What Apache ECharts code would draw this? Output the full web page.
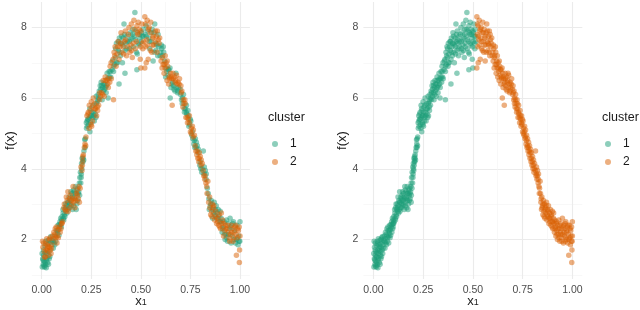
<!DOCTYPE html>
<html><head><meta charset="utf-8">
<script src="https://cdn.jsdelivr.net/npm/echarts@6/dist/echarts.min.js"></script>
<style>html,body{margin:0;padding:0;background:#fff}#c{width:640px;height:310px}</style>
</head><body><div id="c"></div>
<script>
const xMajorTicks = [0, 0.25, 0.5, 0.75, 1];
const xMinorTicks = [0.125, 0.375, 0.625, 0.875];
const yMajorTicks = [2, 4, 6, 8];
const yMinorTicks = [1, 3, 5, 7];
const clusterNames = ['1', '2'];
const clusterColors = ['#1B9E77', '#D95F02'];

// [x, f(x), cluster in left panel] ; right panel cluster 1
const rightCluster1Points = [
[0.003,1.22,1],[0.005,1.45,1],[0.006,1.78,2],[0.008,1.3,1],[0.01,1.55,1],[0.01,1.9,2],[0.012,1.38,1],[0.013,1.65,2],[0.015,1.22,1],[0.016,1.82,1],[0.018,1.5,2],[0.02,1.95,1],[0.02,1.28,1],[0.022,1.7,2],[0.024,1.42,1],[0.025,2.02,2],[0.026,1.6,1],[0.028,1.85,2],[0.03,1.35,1],[0.03,1.75,2],[0.033,1.98,1],[0.035,1.55,2],[0.036,1.88,1],[0.038,1.45,1],[0.04,1.78,2],[0.042,2.05,2],[0.045,1.92,1],[0.047,1.6,2],[0.05,1.85,2],[0.052,1.98,1],
[0.002,1.6,1],[0.004,1.95,2],[0.007,1.42,1],[0.009,1.7,1],[0.011,1.25,1],[0.014,1.5,2],[0.017,1.35,1],[0.019,1.62,1],[0.021,1.88,2],[0.023,1.2,1],[0.027,1.48,1],[0.029,1.68,2],[0.032,1.8,2],[0.034,1.3,1],[0.037,1.65,1],[0.039,2.0,2],[0.041,1.52,1],[0.044,1.7,2],[0.046,2.08,1],[0.049,1.75,2],
[0.055,2.1,2],[0.058,1.75,1],[0.06,2.02,2],[0.062,1.9,1],[0.065,2.15,2],[0.068,2.3,2],[0.07,1.95,1],[0.072,2.05,2],[0.075,2.25,1],[0.078,2.1,2],[0.08,2.18,1],[0.082,2.4,1],[0.085,2.28,2],[0.087,2.12,1],[0.09,2.35,2],[0.092,2.5,1],[0.095,2.42,1],[0.097,2.3,2],[0.1,2.55,1],[0.1,2.45,2],
[0.057,1.95,1],[0.061,2.2,2],[0.066,1.85,1],[0.069,2.1,1],[0.073,2.35,2],[0.077,1.9,2],[0.081,2.25,1],[0.084,2.05,2],[0.088,2.42,1],[0.093,2.2,2],[0.096,2.6,1],[0.099,2.35,1],
[0.103,2.65,1],[0.105,2.5,2],[0.108,2.75,1],[0.11,2.6,1],[0.112,2.9,2],[0.115,2.7,1],[0.118,2.85,2],[0.12,3.0,1],[0.122,2.8,2],[0.125,2.95,1],[0.128,3.1,2],[0.13,2.85,1],[0.132,3.35,2],[0.135,3.05,1],[0.137,2.9,1],[0.14,3.15,2],[0.142,3.0,1],[0.145,3.25,2],[0.148,2.95,1],[0.15,3.1,2],
[0.102,2.45,2],[0.107,2.85,1],[0.111,2.55,1],[0.114,3.0,2],[0.117,2.65,1],[0.121,2.9,1],[0.124,3.2,2],[0.127,2.75,1],[0.131,3.05,1],[0.134,2.8,2],[0.138,3.2,1],[0.141,2.9,2],[0.144,3.1,1],[0.147,3.35,1],[0.151,3.0,2],[0.154,3.2,1],[0.158,3.5,2],[0.161,2.95,1],[0.164,3.35,1],[0.168,3.15,2],[0.171,3.3,1],[0.174,2.85,1],[0.178,3.4,2],[0.181,3.1,1],[0.184,3.3,1],[0.188,3.5,2],[0.191,3.25,1],
[0.152,3.3,1],[0.155,2.85,1],[0.157,3.15,2],[0.16,3.4,1],[0.162,3.05,2],[0.165,3.2,1],[0.167,2.9,2],[0.17,3.5,1],[0.172,3.1,2],[0.175,3.3,2],[0.177,3.0,1],[0.18,3.25,2],[0.182,3.45,1],[0.185,3.15,2],[0.187,3.35,1],[0.19,3.05,2],[0.19,3.6,1],[0.192,3.75,1],[0.194,3.45,2],[0.195,3.9,1],
[0.197,3.6,1],[0.198,4.05,2],[0.2,3.85,1],[0.201,4.15,1],[0.203,3.95,2],[0.204,4.3,1],[0.205,4.1,2],[0.207,4.35,2],[0.208,4.2,1],[0.21,4.4,2],[0.212,4.25,1],[0.215,4.6,2],[0.217,4.82,1],[0.218,4.7,2],[0.22,4.85,1],[0.222,4.65,2],[0.225,5.3,1],[0.228,5.5,2],[0.23,5.2,1],[0.232,5.4,1],
[0.199,3.75,1],[0.202,4.0,1],[0.206,4.22,2],[0.209,4.3,1],[0.213,4.5,1],[0.219,4.6,1],[0.223,4.9,2],[0.226,5.15,1],[0.229,5.35,1],[0.233,5.55,2],[0.236,5.4,1],[0.239,5.15,2],[0.242,5.7,1],[0.246,5.5,1],[0.249,5.25,2],[0.253,5.6,1],[0.256,5.35,2],[0.259,5.8,1],[0.263,5.5,1],[0.268,5.7,2],[0.273,5.45,1],[0.276,5.85,1],[0.281,5.75,2],[0.284,5.95,1],[0.288,6.0,1],[0.293,6.15,2],[0.298,6.25,1],
[0.235,5.6,2],[0.237,5.25,1],[0.24,5.8,2],[0.241,5.45,1],[0.243,5.05,1],[0.245,5.65,2],[0.247,5.3,1],[0.25,5.9,2],[0.25,5.5,1],[0.252,5.2,2],[0.255,5.75,2],[0.257,5.45,1],[0.26,6.0,2],[0.262,5.6,1],[0.265,5.35,1],[0.267,5.85,2],[0.27,5.55,1],[0.272,5.7,2],[0.275,6.05,1],[0.277,5.5,2],[0.28,5.9,1],[0.282,5.65,2],[0.285,6.1,1],[0.287,5.8,2],[0.29,6.2,1],
[0.292,5.95,2],[0.295,6.35,1],[0.297,6.05,2],[0.3,6.45,1],[0.302,6.15,2],[0.305,5.95,1],[0.307,6.3,1],[0.31,6.5,2],[0.312,6.2,1],[0.315,6.05,2],[0.318,6.4,1],[0.32,6.6,2],[0.322,6.3,1],[0.325,6.15,1],[0.328,6.5,2],[0.33,6.7,1],[0.333,6.4,2],[0.335,6.0,1],[0.338,6.55,2],[0.34,6.75,1],[0.343,6.45,2],[0.345,6.9,2],[0.348,6.6,1],[0.35,7.0,2],[0.355,6.8,1],[0.362,5.95,2],[0.39,6.4,1],[0.42,6.7,1],[0.48,6.8,1],[0.5,6.85,2],
[0.303,6.35,1],[0.308,6.1,2],[0.313,6.4,1],[0.317,6.25,1],[0.321,6.5,2],[0.326,6.35,1],[0.331,6.55,1],[0.336,6.3,2],[0.341,6.6,1],[0.346,6.75,1],[0.351,6.55,2],[0.357,7.05,1],
[0.36,7.1,2],[0.362,6.75,1],[0.365,7.3,2],[0.367,6.95,1],[0.37,7.45,2],[0.372,7.15,1],[0.375,6.9,2],[0.377,7.55,1],[0.38,7.25,2],[0.382,7.0,1],[0.385,7.6,2],[0.387,7.35,1],[0.39,7.1,2],[0.392,7.7,1],[0.395,7.45,2],[0.397,7.2,1],[0.4,7.85,2],[0.402,7.55,1],[0.405,7.3,2],[0.407,7.0,1],[0.41,7.7,1],[0.412,7.45,2],[0.415,8.1,1],[0.417,7.6,2],[0.42,7.35,1],[0.422,7.9,2],[0.425,7.55,1],[0.428,7.2,2],[0.43,7.75,1],[0.435,7.45,2],[0.44,8.0,2],
[0.363,6.9,1],[0.368,7.2,2],[0.373,7.4,1],[0.378,7.0,1],[0.383,7.45,2],[0.388,7.6,1],[0.393,7.3,1],[0.398,7.55,2],[0.403,7.75,1],[0.408,7.5,1],[0.413,7.25,2],[0.418,7.8,1],[0.423,7.65,2],[0.427,7.4,1],[0.432,7.6,1],[0.437,7.8,2],[0.443,7.4,1],[0.448,7.65,1],[0.453,7.35,2],[0.458,7.8,1],[0.463,7.45,1],[0.468,7.95,2],[0.473,7.65,1],[0.478,7.3,1],[0.483,7.85,2],[0.488,7.55,1],[0.493,7.8,1],[0.498,7.45,2],[0.503,7.85,1],[0.508,7.55,2],[0.513,7.75,1],
[0.442,7.6,1],[0.445,7.3,2],[0.447,7.85,1],[0.45,7.5,2],[0.452,8.1,2],[0.455,7.7,1],[0.457,7.15,2],[0.46,7.95,1],[0.462,7.55,2],[0.465,8.2,2],[0.467,7.75,1],[0.47,8.42,1],[0.472,7.4,2],[0.475,7.9,1],[0.477,7.6,2],[0.48,8.05,2],[0.482,7.25,1],[0.485,7.8,2],[0.487,8.15,2],[0.49,7.5,1],[0.492,7.95,2],[0.495,7.7,1],[0.497,7.1,2],[0.5,7.9,2],[0.502,7.6,1],[0.505,8.1,2],[0.507,7.75,1],[0.51,7.4,2],[0.512,7.95,1],[0.515,7.6,2]
];
// [x, f(x), cluster in left panel] ; right panel cluster 2
const rightCluster2Points = [
[0.52,8.3,2],[0.522,7.8,1],[0.525,7.45,2],[0.527,8.05,1],[0.53,7.65,2],[0.532,8.2,2],[0.535,7.9,1],[0.537,7.1,2],[0.54,7.7,1],[0.542,8.0,2],[0.545,7.4,1],[0.547,7.85,2],[0.55,8.15,2],[0.552,7.6,1],[0.555,7.3,2],[0.557,7.95,1],[0.56,7.7,2],[0.562,7.05,1],[0.565,7.5,2],[0.567,7.85,1],[0.57,8.1,1],[0.572,7.6,2],[0.575,7.35,1],[0.578,7.75,2],[0.58,7.5,1],[0.583,7.9,2],[0.585,7.2,1],[0.588,7.65,2],[0.59,7.45,1],[0.595,7.7,2],[0.6,7.3,1],[0.52,6.85,2],[0.527,7.0,2],
[0.523,8.1,2],[0.528,7.75,1],[0.533,7.5,2],[0.538,7.95,2],[0.543,7.6,1],[0.548,7.35,2],[0.553,7.85,1],[0.558,7.5,2],[0.563,7.75,2],[0.568,7.3,1],[0.573,7.9,2],[0.577,7.55,1],[0.582,7.3,2],[0.587,7.8,1],[0.592,7.55,2],[0.597,7.2,1],
[0.602,7.05,2],[0.605,7.4,1],[0.607,6.85,2],[0.61,7.2,1],[0.612,6.95,2],[0.615,7.3,1],[0.617,6.7,2],[0.62,7.05,1],[0.622,6.85,2],[0.625,6.6,1],[0.627,7.0,2],[0.63,6.75,1],[0.632,6.5,2],[0.635,6.9,2],[0.637,6.65,1],[0.64,6.4,2],[0.642,6.8,1],[0.645,6.55,2],[0.648,6.0,1],[0.65,6.7,2],[0.652,6.3,1],[0.655,6.55,2],[0.658,5.8,2],[0.66,6.45,1],[0.662,6.7,2],[0.665,6.35,1],[0.67,6.6,2],[0.672,6.2,1],[0.675,6.5,2],[0.678,6.3,1],[0.68,6.65,2],[0.685,6.15,1],[0.688,6.45,2],[0.69,6.3,1],[0.695,6.55,2],[0.7,6.1,1],
[0.603,7.5,1],[0.608,7.15,2],[0.613,7.45,1],[0.618,6.95,2],[0.623,7.2,2],[0.628,6.85,1],[0.633,7.05,2],[0.638,6.8,1],[0.643,6.6,2],[0.647,6.85,1],[0.653,6.6,2],[0.657,6.4,1],[0.663,6.55,2],[0.667,6.25,1],[0.673,6.45,2],[0.677,6.7,1],[0.683,6.4,2],[0.687,6.2,1],[0.693,6.4,2],[0.698,6.25,1],
[0.702,6.35,2],[0.705,5.95,1],[0.707,6.2,2],[0.71,6.0,1],[0.712,5.75,2],[0.715,6.1,1],[0.717,5.85,2],[0.72,5.6,1],[0.722,5.95,2],[0.725,5.7,1],[0.727,5.45,2],[0.73,5.8,1],[0.732,5.55,1],[0.735,5.3,2],[0.737,5.65,1],[0.74,5.4,2],[0.742,5.2,1],[0.745,5.5,2],[0.747,5.25,1],[0.75,5.05,2],[0.752,5.35,1],[0.755,5.15,2],[0.757,4.95,1],[0.76,5.2,2],[0.762,4.85,1],
[0.704,6.15,2],[0.709,5.85,1],[0.714,5.95,2],[0.719,5.7,1],[0.724,5.85,2],[0.729,5.6,1],[0.734,5.45,2],[0.739,5.5,1],[0.744,5.3,2],[0.749,5.4,1],[0.754,5.0,2],[0.759,5.05,1],[0.764,4.9,2],[0.769,4.8,1],[0.774,4.65,2],[0.779,4.6,1],[0.784,4.5,2],[0.789,4.45,1],[0.794,4.3,2],[0.799,4.2,1],[0.804,4.1,2],[0.809,4.0,1],[0.814,3.95,2],[0.819,3.85,1],[0.824,3.8,2],[0.829,3.7,1],[0.834,3.3,2],
[0.765,5.1,2],[0.767,4.7,1],[0.77,4.95,2],[0.772,4.6,1],[0.775,4.85,1],[0.777,4.5,2],[0.78,4.75,1],[0.782,4.4,2],[0.785,4.65,1],[0.787,4.3,2],[0.79,4.55,1],[0.792,4.2,2],[0.795,4.45,2],[0.797,4.1,1],[0.8,4.35,2],[0.802,4.0,1],[0.805,4.25,2],[0.807,3.9,1],[0.81,4.15,2],[0.815,4.5,1],[0.817,3.8,2],[0.82,4.05,1],[0.822,3.7,2],[0.825,3.95,1],[0.828,3.6,2],[0.83,3.85,1],[0.832,3.5,2],[0.835,3.45,1],[0.838,3.65,2],
[0.84,3.3,1],[0.842,3.05,2],[0.845,2.85,1],[0.847,3.2,2],[0.85,2.95,1],[0.852,2.7,2],[0.855,3.1,1],[0.857,2.8,2],[0.86,3.0,2],[0.862,2.6,1],[0.865,2.9,2],[0.867,2.75,1],[0.87,3.05,1],[0.872,2.55,2],[0.875,2.85,1],[0.877,2.65,2],[0.88,2.95,1],[0.882,2.45,2],[0.885,2.75,1],[0.887,2.6,2],[0.89,2.85,1],[0.892,2.4,2],[0.895,2.7,2],[0.897,2.5,1],[0.9,2.8,1],[0.902,2.3,2],[0.905,2.6,1],
[0.843,3.15,1],[0.848,2.9,2],[0.853,3.0,1],[0.858,2.65,2],[0.863,2.85,1],[0.868,2.95,2],[0.873,2.7,1],[0.878,2.8,2],[0.883,2.6,1],[0.888,2.5,2],[0.893,2.65,1],[0.898,2.35,2],[0.903,2.5,1],[0.906,2.75,2],
[0.908,2.45,2],[0.91,2.2,1],[0.912,2.55,2],[0.915,2.35,1],[0.917,2.1,2],[0.92,2.5,1],[0.922,2.25,2],[0.925,2.0,1],[0.927,2.4,2],[0.93,2.15,1],[0.932,2.55,1],[0.935,2.3,2],[0.937,1.95,1],[0.94,2.2,2],[0.942,2.45,1],[0.945,2.05,2],[0.947,2.3,1],[0.95,2.6,1],[0.952,2.15,2],[0.955,1.9,1],[0.957,2.4,2],[0.96,2.1,1],[0.962,2.3,2],[0.965,1.95,2],[0.967,2.5,1],[0.97,2.2,2],[0.972,2.0,1],[0.975,2.35,2],[0.977,1.9,1],[0.98,2.15,2],[0.982,1.55,2],[0.985,2.4,1],[0.987,2.05,2],[0.99,1.85,1],[0.992,2.25,2],[0.995,1.95,1],[0.997,1.35,2],[1.0,2.5,1],[1.0,2.1,2],[0.998,1.7,2],
[0.913,2.3,1],[0.918,2.45,2],[0.923,2.15,1],[0.928,2.3,2],[0.933,2.05,1],[0.938,2.4,2],[0.943,2.15,1],[0.948,1.95,2],[0.953,2.35,1],[0.958,2.2,2],[0.963,2.45,1],[0.968,2.05,2],[0.973,2.25,1],[0.978,2.4,2],[0.983,2.0,1],[0.988,2.3,2],[0.993,2.1,1],[0.996,2.35,2],[0.999,1.95,1]
];

const allPoints = rightCluster1Points.concat(rightCluster2Points);
const leftGroups = clusterNames.map((n, i) => allPoints.filter(p => p[2] === i + 1).map(p => [p[0], p[1]]));
const rightGroups = [rightCluster1Points, rightCluster2Points].map(g => g.map(p => [p[0], p[1]]));

const FONT = 'Liberation Sans, Arial, sans-serif';
const xMin = -0.05, xMax = 1.05, yMin = 0.88, yMax = 8.72;

function axesFor(gridIndex, yNameGap) {
  const major = { show: true, lineStyle: { color: '#ebebeb', width: 1.1 } };
  const minor = { show: true, lineStyle: { color: '#f3f3f3', width: 0.6 } };
  const xs = [
    { type: 'value', gridIndex, min: xMin, max: xMax, position: 'bottom',
      axisLine: { show: false }, axisTick: { show: false, customValues: xMajorTicks },
      axisLabel: { customValues: xMajorTicks, formatter: v => v.toFixed(2), color: '#4d4d4d', fontSize: 10.5, fontFamily: FONT, margin: 6 },
      splitLine: major },
    { type: 'value', gridIndex, min: xMin, max: xMax, position: 'top',
      axisLine: { show: false }, axisTick: { show: false, customValues: xMinorTicks },
      axisLabel: { show: false, customValues: xMinorTicks }, splitLine: minor }
  ];
  const ys = [
    { type: 'value', gridIndex, min: yMin, max: yMax, position: 'left',
      axisLine: { show: false }, axisTick: { show: false, customValues: yMajorTicks },
      axisLabel: { customValues: yMajorTicks, color: '#4d4d4d', fontSize: 10.5, fontFamily: FONT, margin: 5 },
      splitLine: major,
      name: 'f(x)', nameLocation: 'middle', nameGap: yNameGap, nameRotate: 90,
      nameTextStyle: { fontSize: 13, color: '#1a1a1a', fontFamily: FONT } },
    { type: 'value', gridIndex, min: yMin, max: yMax, position: 'right',
      axisLine: { show: false }, axisTick: { show: false, customValues: yMinorTicks },
      axisLabel: { show: false, customValues: yMinorTicks }, splitLine: minor }
  ];
  return { xs, ys };
}

const a0 = axesFor(0, 15), a1 = axesFor(1, 14);

function mkSeries(data, i, xi, yi) {
  return { type: 'scatter', name: clusterNames[i], data, xAxisIndex: xi, yAxisIndex: yi,
    symbol: 'circle', symbolSize: 5.5, clip: false,
    itemStyle: { color: clusterColors[i], opacity: 0.5 }, emphasis: { disabled: true } };
}

const legendCommon = { orient: 'vertical', icon: 'circle', itemWidth: 20, itemHeight: 6, itemGap: 6,
  textStyle: { fontSize: 12, color: '#1a1a1a', fontFamily: FONT }, data: clusterNames, selectedMode: false };

const xTitleRich = {
  x: { fontSize: 13, lineHeight: 13, padding: [0, 0, 3, 0], fill: '#1a1a1a', color: '#1a1a1a', fontFamily: FONT, verticalAlign: 'top' },
  s: { fontSize: 9, lineHeight: 9, fill: '#1a1a1a', color: '#1a1a1a', fontFamily: FONT, verticalAlign: 'bottom' }
};
function xTitle(cx) {
  return { type: 'text', x: cx, y: 294.5, style: { text: '{x|x}{s|1}', rich: xTitleRich, align: 'center', verticalAlign: 'top', fill: '#1a1a1a', fontFamily: FONT } };
}

const chart = echarts.init(document.getElementById('c'), null, { renderer: 'canvas' });
chart.setOption({
  animation: false,
  backgroundColor: '#fff',
  grid: [
    { left: 31.8, right: 390.1, top: 2, bottom: 31, containLabel: false, outerBoundsMode: 'none' },
    { left: 363.4, right: 57.7, top: 2, bottom: 31, containLabel: false, outerBoundsMode: 'none' }
  ],
  xAxis: a0.xs.concat(a1.xs.map(a => Object.assign({}, a, { gridIndex: 1 }))),
  yAxis: a0.ys.concat(a1.ys.map(a => Object.assign({}, a, { gridIndex: 1 }))),
  legend: [
    Object.assign({}, legendCommon, { left: 267, top: 133 }),
    Object.assign({}, legendCommon, { left: 600, top: 133 })
  ],
  graphic: [
    { type: 'text', left: 268, top: 111, style: { text: 'cluster', fontSize: 12.5, fill: '#1a1a1a', fontFamily: FONT } },
    { type: 'text', left: 602, top: 111, style: { text: 'cluster', fontSize: 12.5, fill: '#1a1a1a', fontFamily: FONT } },
    xTitle(141), xTitle(473)
  ],
  series: [
    mkSeries(leftGroups[0], 0, 0, 0), mkSeries(leftGroups[1], 1, 0, 0),
    mkSeries(rightGroups[0], 0, 2, 2), mkSeries(rightGroups[1], 1, 2, 2)
  ]
});
</script></body></html>
